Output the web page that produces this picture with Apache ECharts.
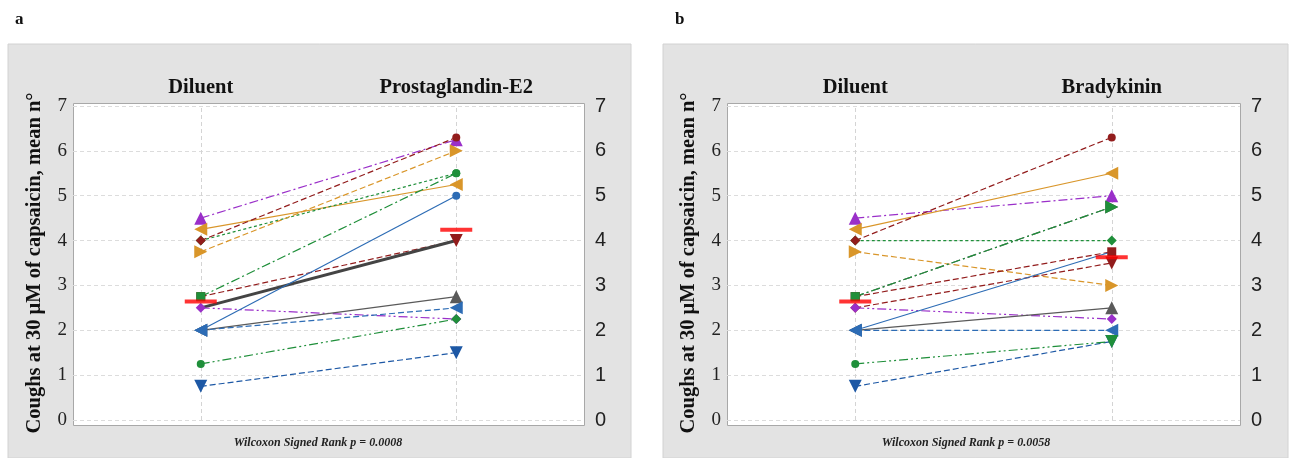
<!DOCTYPE html>
<html><head><meta charset="utf-8">
<script src="https://cdn.jsdelivr.net/npm/echarts@6/dist/echarts.min.js"></script>
<style>html,body{margin:0;padding:0;background:#fff}#c{width:1290px;height:458px}</style>
</head><body><div id="c"></div>
<script>
// ---- data ----
var yTicks = [0, 1, 2, 3, 4, 5, 6, 7];
var categoriesA = ['Diluent', 'Prostaglandin-E2'];
var categoriesB = ['Diluent', 'Bradykinin'];
var diluentA = [4.5, 4.25, 4.0, 4.0, 3.75, 2.75, 2.75, 2.5, 2.5, 2.0, 2.0, 2.0, 1.25, 0.75];
var pge2A    = [6.25, 5.25, 5.5, 6.3, 6.0, 4.0, 5.5, 4.0, 2.25, 2.75, 5.0, 2.5, 2.25, 1.5];
var diluentB = [4.5, 4.25, 4.0, 4.0, 3.75, 2.75, 2.75, 2.75, 2.5, 2.5, 2.0, 2.0, 2.0, 0.75, 1.25];
var bradyB   = [5.0, 5.5, 4.0, 6.3, 3.0, 4.75, 3.75, 4.75, 3.5, 2.25, 2.5, 3.75, 2.0, 1.75, 1.75];
var meansA = [2.64, 4.24];
var meansB = [2.64, 3.63];
var pTextA = 'Wilcoxon Signed Rank p = 0.0008';
var pTextB = 'Wilcoxon Signed Rank p = 0.0058';
var yTitle = 'Coughs at 30 \u03bcM of capsaicin, mean n\u00b0';

// ---- styles ----
var C = {pu:'#9a2fc9', or:'#d9962a', dr:'#921c1c', gr:'#1f8f3a', bl:'#2d6cb5', bd:'#1d58a5', gy:'#5a5a5a', gk:'#444444'};
var D = {solid:'solid', dash:[6,3], sdash:[3,2.5], dd:[9,3,2,3], ddd:[9,3,2,3,2,3]};
var S = {up:['triangle',0,13], left:['triangle',90,13], right:['triangle',-90,13], down:['triangle',180,13],
         dia:['diamond',0,10], cir:['circle',0,8], sq:['rect',0,9], none:['none',0,0]};
// [color, dash, width, startSym, endSym]
var styleA = [
  ['pu','dd',1.2,'up','up'], ['or','solid',1.2,'left','left'], ['gr','sdash',1.2,'dia','cir'],
  ['dr','dash',1.2,'dia','cir'], ['or','dash',1.2,'right','right'], ['dr','dash',1.2,'sq','down'],
  ['gr','dd',1.2,'sq','cir'], ['gk','solid',3,'none','none'], ['pu','ddd',1.2,'dia','dia'],
  ['gy','solid',1.2,'left','up'], ['bl','solid',1.2,'left','cir'], ['bl','dash',1.2,'left','left'],
  ['gr','ddd',1.2,'cir','dia'], ['bd','dash',1.2,'down','down']];
var styleB = [
  ['pu','dd',1.2,'up','up'], ['or','solid',1.2,'left','left'], ['gr','sdash',1.2,'dia','dia'],
  ['dr','dash',1.2,'dia','cir'], ['or','dash',1.2,'right','right'], ['gy','dd',1.2,'sq','right'],
  ['dr','dash',1.2,'sq','sq'], ['gr','dd',1.2,'sq','right'], ['dr','dash',1.2,'dia','down'],
  ['pu','ddd',1.2,'dia','dia'], ['gy','solid',1.2,'left','up'], ['bl','solid',1.2,'left','none'],
  ['bl','dash',1.2,'left','left'], ['bd','dash',1.2,'down','down'], ['gr','ddd',1.2,'cir','down']];

var serif = '"Liberation Serif","Times New Roman",serif';
var sans = '"Liberation Sans",Arial,sans-serif';

function pt(cat, v, symKey, color) {
  var s = S[symKey];
  return {value: [cat, v], symbol: s[0], symbolRotate: s[1], symbolSize: s[2],
    itemStyle: {color: color, borderColor: color, borderWidth: 0, opacity: 1}};
}
function subjSeries(idx, cats, d0, d1, styles, means) {
  var out = [];
  out.push({type:'line', xAxisIndex: idx, yAxisIndex: idx*2, data: [], silent:true, animation:false, z: 1,
    markLine:{symbol:'none', silent:true, label:{show:false}, animation:false, z: 1,
      lineStyle:{color:'#d4d4d4', type:[4,3], width:1},
      data:[{xAxis: cats[0]}, {xAxis: cats[1]}]}});
  for (var i = 0; i < d0.length; i++) {
    var st = styles[i], col = C[st[0]];
    out.push({type:'line', xAxisIndex: idx, yAxisIndex: idx*2, animation:false, silent:true,
      showAllSymbol: true,
      data:[pt(cats[0], d0[i], st[3], col), pt(cats[1], d1[i], st[4], col)],
      lineStyle:{color: col, width: st[2], type: D[st[1]]},
      itemStyle:{color: col, borderWidth: 0}, z: 3});
  }
  out.push({type:'scatter', xAxisIndex: idx, yAxisIndex: idx*2, animation:false, silent:true,
    data: [[cats[0], means[0]], [cats[1], means[1]]],
    symbol:'rect', symbolSize:[32,4], itemStyle:{color:'#ff0000'}, z: 6});
  return out;
}
function xAx(idx, cats) {
  return {type:'category', gridIndex: idx, data: cats, position:'top', boundaryGap:true,
    axisLine:{show:false}, axisTick:{show:false}, splitLine:{show:false},
    axisLabel:{fontFamily: serif, fontWeight:'bold', fontSize:20.5, color:'#111', margin:8}};
}
function yAx(idx, pos) {
  return {type:'value', gridIndex: idx, position: pos, min: yTicks[0], max: yTicks[yTicks.length-1], interval: 1,
    axisLine:{show:false}, axisTick:{show:false},
    splitLine:{show: pos==='left', lineStyle:{color:'#dcdcdc', type:[4,3]}},
    axisLabel:{fontFamily: pos==='left'?serif:sans, fontSize: pos==='left'?19:20, color:'#222', margin: pos==='left'?6:11}};
}
var frames = [[73,103,511,322],[727,103,513,322]];
var bgs = [[8,44,623,414],[663,44,625,414]];
var graphic = [];
bgs.forEach(function(b){ graphic.push({type:'rect', z:-20, silent:true, shape:{x:b[0],y:b[1],width:b[2],height:b[3]},
  style:{fill:'#e3e3e3', stroke:'#d2d2d2', lineWidth:1}}); });
frames.forEach(function(f){ graphic.push({type:'rect', z:-10, silent:true, shape:{x:f[0]+0.5,y:f[1]+0.5,width:f[2],height:f[3]},
  style:{fill:'#ffffff', stroke:'#a8a8a8', lineWidth:1}}); });
graphic.push({type:'text', x:15, y:20, silent:true, style:{text:'a', font:'bold 17px '+serif, fill:'#111', textVerticalAlign:'middle'}});
graphic.push({type:'text', x:675, y:20, silent:true, style:{text:'b', font:'bold 17px '+serif, fill:'#111', textVerticalAlign:'middle'}});
[[35,263],[689,263]].forEach(function(p){ graphic.push({type:'text', x:p[0], y:p[1], rotation:Math.PI/2, silent:true,
  style:{text:yTitle, font:'bold 20.5px '+serif, fill:'#111', textAlign:'center', textVerticalAlign:'middle'}}); });
graphic.push({type:'text', x:318, y:443, silent:true, style:{text:pTextA, font:'italic bold 12px '+serif, fill:'#222', textAlign:'center', textVerticalAlign:'middle'}});
graphic.push({type:'text', x:966, y:443, silent:true, style:{text:pTextB, font:'italic bold 12px '+serif, fill:'#222', textAlign:'center', textVerticalAlign:'middle'}});

var chart = echarts.init(document.getElementById('c'), null, {renderer:'canvas'});
chart.setOption({
  animation:false,
  backgroundColor:'#ffffff',
  graphic: graphic,
  grid:[{left:73, right:1290-584, top:106, bottom:458-420}, {left:727, right:1290-1240, top:106, bottom:458-420}],
  xAxis:[xAx(0, categoriesA), xAx(1, categoriesB)],
  yAxis:[yAx(0,'left'), yAx(0,'right'), yAx(1,'left'), yAx(1,'right')],
  series: subjSeries(0, categoriesA, diluentA, pge2A, styleA, meansA).concat(subjSeries(1, categoriesB, diluentB, bradyB, styleB, meansB))
});
</script></body></html>
